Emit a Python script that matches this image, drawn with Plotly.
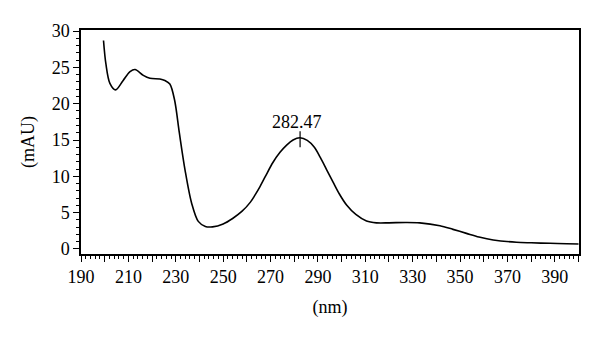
import plotly.graph_objects as go

wavelength_nm = [199.5, 200.5, 202.2, 204.6, 207.8, 210.7, 212.8, 216.3, 219.1, 223.3, 225.4,
                 227.5, 229.5, 231.5, 233.9, 236.7, 239.5, 242.5, 245.5, 250.0, 254.0, 258.0,
                 261.5, 263.5, 265.5, 268.0, 271.0, 274.0, 276.8, 279.5, 282.4, 285.5, 288.5,
                 291.0, 293.7, 296.4, 299.0, 302.1, 306.0, 310.5, 314.7, 320.0, 327.0, 333.0,
                 341.5, 347.0, 352.7, 358.0, 364.0, 373.8, 380.0, 388.0, 395.0, 400.0]
absorbance_mau = [28.7, 25.5, 22.8, 21.9, 23.2, 24.4, 24.7, 23.9, 23.5, 23.4, 23.2,
                  22.7, 20.5, 16.0, 10.9, 6.3, 3.8, 3.1, 3.05, 3.45, 4.2, 5.2,
                  6.45, 7.45, 8.55, 10.1, 11.9, 13.3, 14.3, 15.0, 15.3, 14.95, 14.0,
                  12.6, 10.9, 9.2, 7.6, 6.05, 4.75, 3.85, 3.6, 3.6, 3.65, 3.6,
                  3.2, 2.7, 2.15, 1.65, 1.24, 0.92, 0.85, 0.78, 0.72, 0.69]

peak_x = 282.47
peak_y = 15.3
peak_label = "282.47"

x_tickvals = list(range(190, 401, 10))
x_ticktext = [str(v) if (v - 190) % 20 == 0 else "" for v in x_tickvals]
y_tickvals = [0, 5, 10, 15, 20, 25, 30]

font_family = "Liberation Serif"
base_font = dict(family=font_family, size=18, color="black")

fig = go.Figure()
fig.add_trace(go.Scatter(x=wavelength_nm, y=absorbance_mau, mode="lines",
                         line=dict(color="black", width=1.6, shape="spline", smoothing=0.9),
                         hoverinfo="skip", showlegend=False))
# peak marker
fig.add_trace(go.Scatter(x=[peak_x, peak_x], y=[peak_y - 1.3, peak_y + 0.9], mode="lines",
                         line=dict(color="black", width=1.2), showlegend=False, hoverinfo="skip"))
fig.add_annotation(x=peak_x, y=peak_y + 0.9, text=peak_label, showarrow=False,
                   yanchor="bottom", xshift=-3, yshift=-3, font=base_font)

fig.update_layout(
    width=600, height=340,
    margin=dict(l=81, r=21, t=30, b=86, autoexpand=False),
    paper_bgcolor="white", plot_bgcolor="white",
    font=base_font,
    xaxis=dict(range=[190, 400.2], tickvals=x_tickvals, ticktext=x_ticktext,
               tickfont=base_font,
               ticks="outside", ticklen=6, tickwidth=1.2, tickcolor="black",
               minor=dict(dtick=2, ticks="outside", ticklen=3, tickwidth=1, tickcolor="black"),
               showline=True, linecolor="black", linewidth=1.5, mirror=True,
               showgrid=False, zeroline=False, automargin=False,
               title=dict(text="(nm)", standoff=14, font=base_font)),
    yaxis=dict(range=[-0.69, 30.14], tickvals=y_tickvals,
               tickfont=base_font,
               ticks="outside", ticklen=6, tickwidth=1.2, tickcolor="black",
               minor=dict(dtick=1, ticks="outside", ticklen=3, tickwidth=1, tickcolor="black"),
               showline=True, linecolor="black", linewidth=1.5, mirror=True,
               showgrid=False, zeroline=False, automargin=False,
               title=dict(text="(mAU)", standoff=12, font=base_font)),
)

fig.write_html("out.html", config={"displayModeBar": False},
               post_script="document.body.style.margin='0px';document.body.style.padding='0px';")
